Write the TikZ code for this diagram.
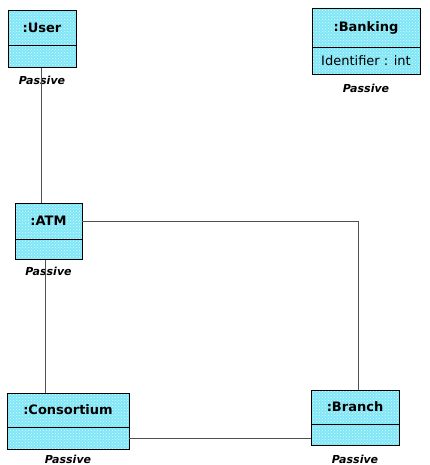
\documentclass[tikz,border=0pt]{standalone}
\usepackage{fontspec}
\setmainfont{DejaVu Sans}
\usepackage{tikz}
\usetikzlibrary{positioning,patterns}
\definecolor{objCyan}{HTML}{7EE6F6}
\definecolor{linkGray}{HTML}{505050}

\tikzset{
  objbox/.style={draw=black, preaction={fill=objCyan}, preaction={pattern=crosshatch dots, pattern color=white!80!objCyan},
    inner sep=0pt},
  objname/.style={objbox, font=\bfseries\fontsize{13}{15}\selectfont},
  objattr/.style={objbox, font=\fontsize{13}{15}\selectfont},
  passive/.style={font=\bfseries\itshape\fontsize{11}{13}\selectfont},
  link/.style={draw=linkGray, line width=0.8pt}
}

\begin{document}
\begin{tikzpicture}[x=1pt, y=-1pt]
  \useasboundingbox (0,0) rectangle (429,465);

  % :User
  \node[objname, minimum width=68, minimum height=35] (user) at (42,27.5) {:User};
  \node[objattr, minimum width=68, minimum height=22, below=0pt of user] (userA) {};
  \node[passive] (userP) at (42,80) {Passive};

  % :Banking
  \node[objname, minimum width=108, minimum height=39] (bank) at (366,27.5) {:Banking};
  \node[objattr, minimum width=108, minimum height=27, below=0pt of bank] (bankA) {Identifier : int};
  \node[passive] (bankP) at (366,88) {Passive};

  % :ATM
  \node[objname, minimum width=67, minimum height=36] (atm) at (48.5,221) {:ATM};
  \node[objattr, minimum width=67, minimum height=20, below=0pt of atm] (atmA) {};
  \node[passive] (atmP) at (48.5,271) {Passive};

  % :Consortium
  \node[objname, minimum width=122, minimum height=34] (cons) at (68,410) {:Consortium};
  \node[objattr, minimum width=122, minimum height=22, below=0pt of cons] (consA) {};
  \node[passive] (consP) at (68,459) {Passive};

  % :Branch
  \node[objname, minimum width=88, minimum height=34] (branch) at (355,407) {:Branch};
  \node[objattr, minimum width=88, minimum height=21, below=0pt of branch] (branchA) {};
  \node[passive] (branchP) at (355,459) {Passive};

  % connectors
  \draw[link] ([xshift=-1]userA.south) -- ([xshift=-1]userA.south |- atm.north);
  \draw[link] ([xshift=-3.5]atmA.south) -- ([xshift=-3.5]atmA.south |- cons.north);
  \draw[link] (atm.east) -| ([xshift=3]branch.north);
  \draw[link] (consA.east) -- (consA.east -| branchA.west);
\end{tikzpicture}
\end{document}
